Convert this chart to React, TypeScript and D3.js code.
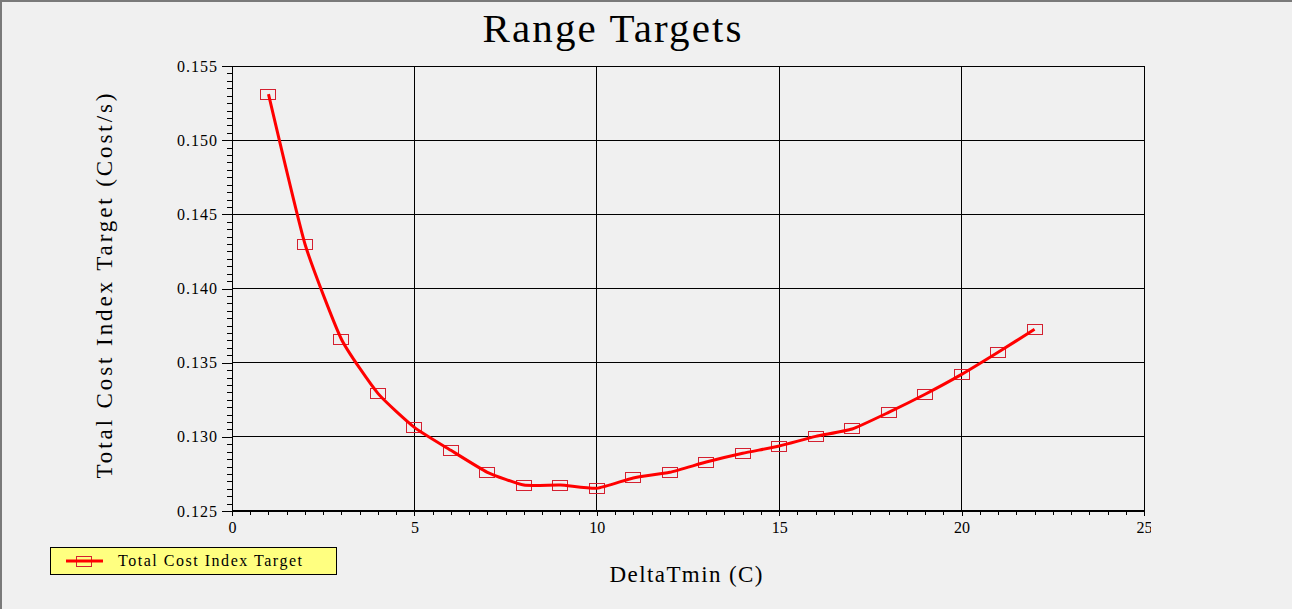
import * as React from 'react';
import * as d3 from 'd3';

const deltaTmin = [1, 2, 3, 4, 5, 6, 7, 8, 9, 10, 11, 12, 13, 14, 15, 16, 17, 18, 19, 20, 21, 22];
const costIndex = [
  0.1531, 0.1430, 0.13658, 0.13293, 0.13064, 0.12909, 0.12761, 0.12675, 0.12675, 0.12653, 0.12723,
  0.12761, 0.1283, 0.12889, 0.12938, 0.13003, 0.13053, 0.13165, 0.13287, 0.13421, 0.1357, 0.13725,
];
const xMajorTicks = [0, 5, 10, 15, 20, 25];
const yMajorTicks = [0.125, 0.13, 0.135, 0.14, 0.145, 0.15, 0.155];

const title = 'Range Targets';
const xTitle = 'DeltaTmin (C)';
const yTitle = 'Total Cost Index Target (Cost/s)';
const seriesName = 'Total Cost Index Target';

const W = 1292;
const H = 609;
const FONT = '"Liberation Serif", "DejaVu Serif", serif';

const App: React.FC = () => {
  const svgRef = React.useRef<SVGSVGElement>(null);

  React.useEffect(() => {
    draw();
  }, []);

  const draw = () => {
    const svg = d3.select(svgRef.current);
    svg.selectAll('*').remove();

    const left = 232, right = 1144, top = 66, bottom = 511;

    const xScale = d3.scaleLinear().domain([0, 25]).range([left, right]);
    const yScale = d3.scaleLinear().domain([0.125, 0.155]).range([bottom, top]);

    // background + outer frame
    svg.append('rect').attr('width', W).attr('height', H).attr('fill', '#f0f0f0');
    svg.append('line').attr('x1', 0).attr('x2', W).attr('y1', 1).attr('y2', 1)
      .attr('stroke', '#7a7a7a').attr('stroke-width', 2);
    svg.append('line').attr('x1', 1).attr('x2', 1).attr('y1', 0).attr('y2', H)
      .attr('stroke', '#7a7a7a').attr('stroke-width', 2);

    // title
    svg.append('text')
      .attr('x', 612).attr('y', 42)
      .attr('text-anchor', 'middle')
      .attr('font-family', FONT).attr('font-size', 41)
      .attr('textLength', 259).attr('lengthAdjust', 'spacing')
      .attr('fill', '#000')
      .text(title);

    // grid
    const grid = svg.append('g').attr('shape-rendering', 'crispEdges');
    grid.selectAll('line.vx').data(xMajorTicks.filter(d => d > 0 && d < 25)).enter().append('line')
      .attr('x1', d => xScale(d)).attr('x2', d => xScale(d))
      .attr('y1', top).attr('y2', bottom)
      .attr('stroke', '#000').attr('stroke-width', 1);
    grid.selectAll('line.hy').data(yMajorTicks.filter(d => d > 0.125 && d < 0.155)).enter().append('line')
      .attr('x1', left).attr('x2', right)
      .attr('y1', d => yScale(d)).attr('y2', d => yScale(d))
      .attr('stroke', '#000').attr('stroke-width', 1);

    // plot frame
    grid.append('line').attr('x1', left).attr('x2', right).attr('y1', top).attr('y2', top).attr('stroke', '#000');
    grid.append('line').attr('x1', right).attr('x2', right).attr('y1', top).attr('y2', bottom).attr('stroke', '#000');
    grid.append('line').attr('x1', left).attr('x2', left).attr('y1', top).attr('y2', bottom).attr('stroke', '#000');
    grid.append('line').attr('x1', left).attr('x2', right + 1).attr('y1', bottom).attr('y2', bottom)
      .attr('stroke', '#000').attr('stroke-width', 2);

    // y axis
    const yMinor = d3.range(0.125, 0.15501, 0.0005);
    const yMinorAxis = d3.axisLeft(yScale).tickValues(yMinor).tickSize(5).tickFormat(() => '');
    svg.append('g').attr('transform', `translate(${left},0)`).call(yMinorAxis)
      .call(g => g.select('.domain').remove())
      .attr('shape-rendering', 'crispEdges');
    const yAxis = d3.axisLeft(yScale).tickValues(yMajorTicks).tickSize(10).tickPadding(5)
      .tickFormat(d3.format('.3f') as any);
    svg.append('g').attr('transform', `translate(${left},0)`).call(yAxis)
      .call(g => g.select('.domain').remove())
      .attr('shape-rendering', 'crispEdges')
      .selectAll('text')
        .attr('font-family', FONT).attr('font-size', 16).attr('fill', '#000')
        .attr('textLength', 40).attr('lengthAdjust', 'spacing');

    // x axis
    const clip = svg.append('clipPath').attr('id', 'xclip');
    clip.append('rect').attr('x', 0).attr('y', 0).attr('width', 1151).attr('height', H);
    const xMinor = d3.range(0, 25.01, 0.5);
    const xMinorAxis = d3.axisBottom(xScale).tickValues(xMinor).tickSize(4).tickFormat(() => '');
    svg.append('g').attr('transform', `translate(0,${bottom})`).call(xMinorAxis)
      .call(g => g.select('.domain').remove())
      .attr('shape-rendering', 'crispEdges');
    const xAxis = d3.axisBottom(xScale).tickValues(xMajorTicks).tickSize(5).tickPadding(6)
      .tickFormat(d3.format('d') as any);
    svg.append('g').attr('transform', `translate(0,${bottom})`).attr('clip-path', 'url(#xclip)').call(xAxis)
      .call(g => g.select('.domain').remove())
      .attr('shape-rendering', 'crispEdges')
      .selectAll('text')
        .attr('font-family', FONT).attr('font-size', 16).attr('fill', '#000');

    // axis titles
    svg.append('text')
      .attr('x', 686).attr('y', 582)
      .attr('text-anchor', 'middle')
      .attr('font-family', FONT).attr('font-size', 23)
      .attr('textLength', 153).attr('lengthAdjust', 'spacing')
      .attr('fill', '#000')
      .text(xTitle);
    svg.append('text')
      .attr('transform', `translate(112,286) rotate(-90)`)
      .attr('text-anchor', 'middle')
      .attr('font-family', FONT).attr('font-size', 23)
      .attr('textLength', 385).attr('lengthAdjust', 'spacing')
      .attr('fill', '#000')
      .text(yTitle);

    // series
    const points = deltaTmin.map((x, i) => [x, costIndex[i]] as [number, number]);
    const markerColor = '#d42030';
    svg.append('g').selectAll('rect').data(points).enter().append('rect')
      .attr('x', d => xScale(d[0]) - 7.5).attr('y', d => yScale(d[1]) - 5)
      .attr('width', 15).attr('height', 10)
      .attr('fill', 'none').attr('stroke', markerColor).attr('stroke-width', 1)
      .attr('shape-rendering', 'crispEdges');

    const line = d3.line<[number, number]>()
      .x(d => xScale(d[0]))
      .y(d => yScale(d[1]))
      .curve(d3.curveCardinal.tension(0.5));
    svg.append('path')
      .datum(points)
      .attr('d', line)
      .attr('fill', 'none')
      .attr('stroke', '#ff0000')
      .attr('stroke-width', 3);

    // legend
    const lg = svg.append('g');
    lg.append('rect').attr('x', 50.5).attr('y', 547.5).attr('width', 286).attr('height', 27)
      .attr('fill', '#ffff80').attr('stroke', '#000').attr('stroke-width', 1);
    lg.append('rect').attr('x', 76.5).attr('y', 556.5).attr('width', 15).attr('height', 10)
      .attr('fill', 'none').attr('stroke', markerColor).attr('stroke-width', 1);
    lg.append('line').attr('x1', 66).attr('x2', 103).attr('y1', 561).attr('y2', 561)
      .attr('stroke', '#ff0000').attr('stroke-width', 3);
    lg.append('text')
      .attr('x', 118).attr('y', 566)
      .attr('font-family', FONT).attr('font-size', 16)
      .attr('textLength', 184).attr('lengthAdjust', 'spacing')
      .attr('fill', '#000')
      .text(seriesName);
  };

  return (
    <svg
      ref={svgRef}
      width={W}
      height={H}
      style={{ position: 'absolute', left: 0, top: 0, display: 'block' }}
    ></svg>
  );
};

export default App;
